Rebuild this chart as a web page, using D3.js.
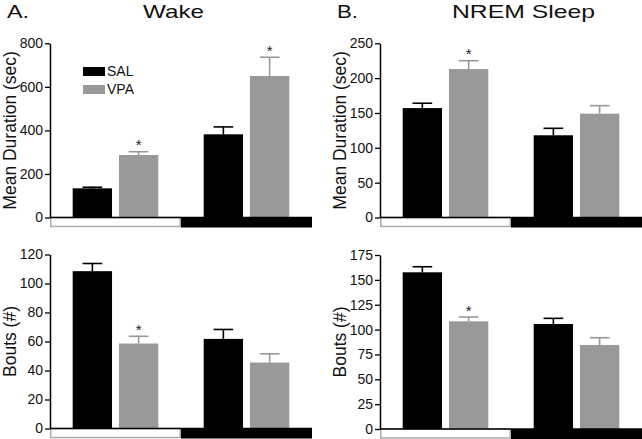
<!DOCTYPE html>
<html><head><meta charset="utf-8">
<script src="https://cdn.jsdelivr.net/npm/d3@7"></script>
<style>body{margin:0;background:#fff} svg text{font-family:"Liberation Sans",Arial,sans-serif}</style>
</head><body><svg id="c" width="642" height="439"></svg>
<script>
// Order of each series: [SAL-Light, VPA-Light, SAL-Dark, VPA-Dark]
const phases = ["Light", "Dark"];
const treatments = ["SAL", "VPA"];

const wakeDurationMean = [134, 287, 382, 650];
const wakeDurationErr  = [5, 15, 34, 86];
const wakeDurationSig  = [false, true, false, true];
const wakeDurationTicks = [0, 200, 400, 600, 800];

const nremDurationMean = [157, 213, 118, 149];
const nremDurationErr  = [7, 12, 10, 11.5];
const nremDurationSig  = [false, true, false, false];
const nremDurationTicks = [0, 50, 100, 150, 200, 250];

const wakeBoutsMean = [108.5, 58.6, 61.8, 45.5];
const wakeBoutsErr  = [5.3, 5, 6.5, 6];
const wakeBoutsSig  = [false, true, false, false];
const wakeBoutsTicks = [0, 20, 40, 60, 80, 100, 120];

const nremBoutsMean = [157.6, 108.3, 105.6, 84.5];
const nremBoutsErr  = [5.6, 4.3, 5.7, 7.3];
const nremBoutsSig  = [false, true, false, false];
const nremBoutsTicks = [0, 25, 50, 75, 100, 125, 150, 175];

const titles = [
  {text: "A.", x: 7, len: 22},
  {text: "Wake", x: 143, len: 61},
  {text: "B.", x: 337, len: 21},
  {text: "NREM Sleep", x: 452, len: 143}
];
const colors = {SAL: "#000000", VPA: "#999999"};

const svg = d3.select("#c");

titles.forEach(t => {
  svg.append("text").attr("x", t.x).attr("y", 18.3)
    .attr("font-size", 19).attr("textLength", t.len)
    .attr("lengthAdjust", "spacingAndGlyphs").attr("fill", "#111")
    .text(t.text);
});

function panel(cfg) {
  const g = svg.append("g");
  const x0 = d3.scaleBand().domain(phases).range([cfg.left, cfg.left + 262]).padding(0);
  const x1 = d3.scaleBand().domain(treatments).range([0, x0.bandwidth()])
    .paddingInner(0.15).paddingOuter(0.49);
  const y = d3.scaleLinear().domain([0, cfg.ticks[cfg.ticks.length - 1]])
    .range([cfg.bottom, cfg.top]);

  const data = cfg.mean.map((m, i) => ({
    phase: phases[Math.floor(i / 2)], trt: treatments[i % 2],
    m: m, e: cfg.err[i], sig: cfg.sig[i]
  }));

  // light/dark band
  g.selectAll("rect.band").data(phases).enter().append("rect")
    .attr("x", d => x0(d) + (d === "Light" ? 0.75 : 0))
    .attr("y", y(0))
    .attr("width", d => x0.bandwidth() - (d === "Light" ? 1.5 : 0))
    .attr("height", d => d === "Light" ? 9 : 10)
    .attr("fill", d => d === "Light" ? "#fff" : "#000")
    .attr("stroke", d => d === "Light" ? "#aaa" : "none")
    .attr("stroke-width", 1.5);

  // bars
  g.selectAll("rect.bar").data(data).enter().append("rect")
    .attr("x", d => x0(d.phase) + x1(d.trt))
    .attr("y", d => y(d.m))
    .attr("width", x1.bandwidth())
    .attr("height", d => y(0) - y(d.m))
    .attr("fill", d => colors[d.trt]);

  // error bars
  data.forEach(d => {
    const cx = x0(d.phase) + x1(d.trt) + x1.bandwidth() / 2;
    const hw = x1.bandwidth() / 4;
    g.append("line").attr("x1", cx).attr("x2", cx)
      .attr("y1", y(d.m)).attr("y2", y(d.m + d.e))
      .attr("stroke", colors[d.trt]).attr("stroke-width", 1.6);
    g.append("line").attr("x1", cx - hw).attr("x2", cx + hw)
      .attr("y1", y(d.m + d.e)).attr("y2", y(d.m + d.e))
      .attr("stroke", colors[d.trt]).attr("stroke-width", 1.6);
    if (d.sig) {
      g.append("text").attr("x", cx).attr("y", y(d.m + d.e) - 1.5)
        .attr("text-anchor", "middle").attr("font-size", 15).attr("fill", "#222")
        .text("*");
    }
  });

  // zero line
  g.append("line").attr("x1", cfg.left).attr("x2", cfg.left + 262)
    .attr("y1", y(0)).attr("y2", y(0)).attr("stroke", "#000").attr("stroke-width", 1.5);

  // y axis
  const ax = g.append("g").attr("transform", `translate(${cfg.left},0)`)
    .call(d3.axisLeft(y).tickValues(cfg.ticks).tickSize(5).tickPadding(2).tickSizeOuter(0));
  ax.select(".domain").attr("stroke-width", 1.5);
  ax.selectAll(".tick line").attr("stroke-width", 1.3);
  ax.selectAll(".tick text").attr("font-size", 14).attr("fill", "#111")
    .attr("font-family", '"Liberation Sans",Arial,sans-serif');

  // y label
  g.append("text")
    .attr("transform", `translate(${cfg.left - 34},${(cfg.top + cfg.bottom) / 2}) rotate(-90)`)
    .attr("text-anchor", "middle").attr("font-size", 17.5).attr("fill", "#111")
    .text(cfg.label);

  if (cfg.legend) {
    treatments.forEach((t, i) => {
      g.append("rect").attr("x", 83).attr("y", 67 + i * 18).attr("width", 22).attr("height", 9)
        .attr("fill", colors[t]);
      g.append("text").attr("x", 107).attr("y", 76 + i * 18).attr("font-size", 14)
        .attr("fill", "#111").text(t);
    });
  }
}

panel({left: 50, top: 43.3, bottom: 217.5, ticks: wakeDurationTicks,
  mean: wakeDurationMean, err: wakeDurationErr, sig: wakeDurationSig,
  label: "Mean Duration (sec)", legend: true});
panel({left: 380, top: 43.3, bottom: 217.5, ticks: nremDurationTicks,
  mean: nremDurationMean, err: nremDurationErr, sig: nremDurationSig,
  label: "Mean Duration (sec)"});
panel({left: 50, top: 254.5, bottom: 428.5, ticks: wakeBoutsTicks,
  mean: wakeBoutsMean, err: wakeBoutsErr, sig: wakeBoutsSig,
  label: "Bouts (#)"});
panel({left: 380, top: 255, bottom: 429, ticks: nremBoutsTicks,
  mean: nremBoutsMean, err: nremBoutsErr, sig: nremBoutsSig,
  label: "Bouts (#)"});
</script></body></html>
